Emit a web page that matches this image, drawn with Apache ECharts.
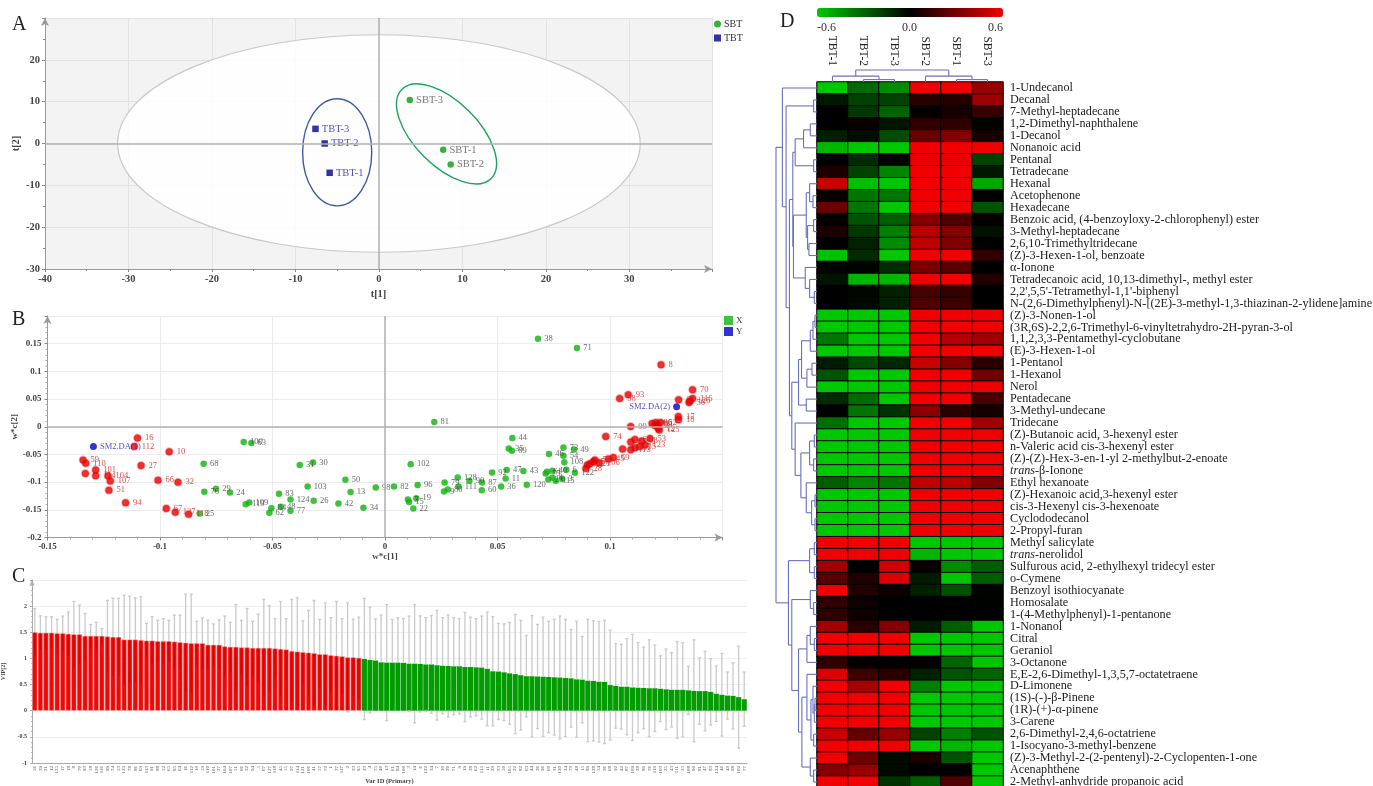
<!DOCTYPE html>
<html>
<head>
<meta charset="utf-8">
<title>PLS-DA and heat map</title>
<script src="https://cdn.jsdelivr.net/npm/echarts@6/dist/echarts.min.js"></script>
<style>
html,body{margin:0;padding:0;background:#fff;overflow:hidden}
#main{width:1373px;height:786px}
</style>
</head>
<body>
<div id="main"></div>
<script>
// A: score plot
var scoreSBT = [[7.7,-1.5,'SBT-1'],[8.6,-5,'SBT-2'],[3.7,10.4,'SBT-3']];
var scoreTBT = [[-5.9,-7,'TBT-1'],[-6.5,0,'TBT-2'],[-7.6,3.5,'TBT-3']];
// cx, cy, rx, ry, rotation in degrees
var scoreEllipses = [[0,0,31.3,26,0],[-5,-2.1,4.14,12.8,0],[8.1,2.3,7.55,7.64,-45]];
var ellipseStroke = ['#c8c8c8','#3a5ea5','#1ca35c'];

// B: loading plot
var loadGreen = [[-0.0628,-0.0277,'100'],[-0.0594,-0.0295,'63'],[-0.0806,-0.0669,'68'],[-0.0379,-0.0693,'31'],[-0.032,-0.0645,'30'],[-0.0176,-0.0958,'50'],[-0.0344,-0.1078,'103'],[-0.0803,-0.1175,'76'],[-0.0751,-0.112,'29'],[-0.0689,-0.1187,'24'],[-0.0471,-0.1211,'83'],[-0.042,-0.1313,'124'],[-0.0153,-0.118,'13'],[-0.0317,-0.1337,'26'],[-0.0207,-0.1386,'42'],[-0.0096,-0.1464,'34'],[-0.0603,-0.1367,'109'],[-0.0619,-0.1398,'119'],[-0.0505,-0.147,'84'],[-0.0463,-0.1446,'48'],[-0.0514,-0.1554,'62'],[-0.042,-0.1518,'77'],[-0.0824,-0.1566,'25'],[-0.0041,-0.1096,'98'],
  [0.068,0.159,'38'],[0.0853,0.1422,'71'],[0.0219,0.0084,'81'],[0.0566,-0.0205,'44'],[0.055,-0.0392,'35'],[0.0564,-0.0434,'89'],[0.0793,-0.0373,'73'],[0.084,-0.041,'49'],[0.0729,-0.0494,'46'],[0.0793,-0.0524,'54'],[0.0797,-0.0639,'108'],[0.0114,-0.0675,'102'],[0.0476,-0.0825,'92'],[0.0541,-0.0783,'47'],[0.0615,-0.0801,'43'],[0.0806,-0.0777,'6'],[0.0844,-0.0831,'122'],[0.0714,-0.0843,'75'],[0.072,-0.0813,'61'],[0.0744,-0.0795,'40'],[0.0726,-0.0952,'23'],[0.0744,-0.0922,'4'],[0.0759,-0.0976,'115'],[0.0788,-0.094,'3'],[0.0536,-0.0934,'11'],[0.0323,-0.0916,'128'],[0.0375,-0.0976,'90'],[0.0431,-0.1006,'87'],[0.0265,-0.1006,'79'],[0.0327,-0.1078,'111'],[0.0516,-0.1078,'36'],[0.063,-0.1048,'120'],[0.043,-0.1145,'60'],[0.0145,-0.1054,'96'],[0.004,-0.1078,'82'],[0.0279,-0.1133,'80'],[0.0262,-0.1169,'9'],[0.0139,-0.1289,'19'],[0.0102,-0.1313,'7'],[0.0107,-0.1361,'15'],[0.0126,-0.1476,'22']];
var loadRed = [[-0.11,-0.0205,'16'],[-0.1114,-0.0355,'112'],[-0.0959,-0.045,'10'],[-0.1342,-0.06,'59'],[-0.133,-0.066,'110'],[-0.1286,-0.078,'101'],[-0.1084,-0.07,'27'],[-0.1286,-0.0886,'114'],[-0.1231,-0.0886,'104'],[-0.1332,-0.0843,''],[-0.1221,-0.098,'107'],[-0.1227,-0.1145,'51'],[-0.1009,-0.0964,'66'],[-0.092,-0.1,'32'],[-0.1153,-0.1373,'94'],[-0.0972,-0.1476,'67'],[-0.0932,-0.1542,'127'],[-0.0873,-0.1578,'118'],
  [0.1227,0.112,'8'],[0.1367,0.0669,'70'],[0.1081,0.0578,'93'],[0.1043,0.0512,'58'],[0.1305,0.0488,'65'],[0.1367,0.0512,'116'],[0.1356,0.0464,'126'],[0.1351,0.044,'56'],[0.1304,0.0187,'17'],[0.1304,0.0127,'18'],[0.1092,0.0006,'99'],[0.1187,0.006,'78'],[0.1204,0.0078,'86'],[0.1225,0.0078,'52'],[0.1199,0.0024,'39'],[0.1211,0.0042,'21'],[0.1215,-0.003,'12'],[0.1219,-0.006,'125'],[0.0981,-0.0175,'74'],[0.1178,-0.0211,'53'],[0.1111,-0.0229,'64'],[0.1092,-0.0277,'85'],[0.1141,-0.0259,'88'],[0.1056,-0.0404,'91'],[0.1092,-0.0416,'113'],[0.1111,-0.038,'97'],[0.1133,-0.0355,'55'],[0.1156,-0.0331,'123'],[0.1015,-0.0554,'69'],[0.0993,-0.0584,'45'],[0.0933,-0.0602,'5'],[0.0953,-0.0651,'106'],[0.0911,-0.0669,'121'],[0.0899,-0.0693,'41'],[0.0893,-0.0753,'28'],[0.0926,-0.0633,'57']];
var loadBlue = [[-0.1296,-0.0355,'SM2.DA(1)'],[0.1296,0.0361,'SM2.DA(2)']];

// C: VIP bars, bars and error half widths read one by one
var vipRed = [1.50,1.49,1.49,1.49,1.48,1.48,1.47,1.46,1.46,1.43,1.43,1.43,1.43,1.42,1.41,1.41,1.36,1.36,1.36,1.35,1.34,1.34,1.33,1.33,1.33,1.32,1.31,1.30,1.29,1.29,1.29,1.26,1.26,1.26,1.23,1.22,1.22,1.21,1.21,1.20,1.20,1.20,1.20,1.19,1.18,1.17,1.14,1.13,1.12,1.11,1.10,1.08,1.08,1.06,1.05,1.04,1.02,1.02,1.01];
var vipGreen = [0.99,0.97,0.96,0.925,0.92,0.92,0.92,0.915,0.90,0.90,0.895,0.885,0.885,0.87,0.86,0.855,0.85,0.85,0.835,0.835,0.83,0.825,0.80,0.755,0.75,0.735,0.715,0.70,0.68,0.66,0.66,0.655,0.65,0.645,0.64,0.635,0.625,0.62,0.60,0.595,0.575,0.57,0.555,0.55,0.49,0.475,0.46,0.46,0.445,0.44,0.435,0.43,0.43,0.42,0.41,0.40,0.40,0.40,0.39,0.38,0.375,0.375,0.36,0.325,0.305,0.29,0.285,0.26,0.22];
var vipErrRed = [0.455,0.325,0.305,0.305,0.265,0.33,0.42,0.63,0.56,0.43,0.22,0.26,0.14,0.69,0.74,0.74,0.85,0.83,0.80,0.83,0.33,0.46,0.40,0.43,0.40,0.51,0.52,0.93,0.94,0.42,0.485,0.47,0.40,0.48,0.58,0.47,0.81,0.52,0.745,0.51,0.65,0.93,0.81,0.57,0.91,0.59,0.99,1.03,0.60,0.81,1.01,0.665,0.98,0.72,1.04,0.72,1.04,0.73,0.78];
var vipErrGreen = [1.16,1.01,0.80,0.905,1.11,0.825,0.86,0.845,0.91,1.13,0.92,0.895,0.935,1.05,0.92,0.975,0.93,0.91,1.045,0.955,0.93,0.985,1.085,1.045,0.92,0.925,0.975,1.14,1.05,0.78,1.16,0.995,1.14,1.065,1.105,1.175,1.12,0.935,1.11,0.825,1.17,1.15,1.155,1.18,1.05,0.81,0.81,0.92,1.015,0.865,0.78,0.925,0.825,0.63,0.77,0.71,0.925,0.90,0.46,0.975,0.635,0.76,0.635,0.53,0.79,0.45,0.635,0.975,0.52];
var vipIds = [56,39,21,12,125,17,18,8,70,93,58,126,116,99,74,53,123,78,86,69,113,91,88,52,65,85,64,16,112,10,59,110,101,27,104,107,51,66,32,94,5,67,127,118,45,55,97,114,121,106,41,57,72,1,37,117,2,33,95,
  23,4,75,40,13,61,84,100,3,14,6,122,34,7,30,20,71,9,19,38,62,115,11,29,73,50,105,22,82,63,44,26,96,60,31,120,24,79,48,15,89,128,54,36,68,92,42,87,109,28,80,76,119,103,25,43,111,35,108,90,81,47,83,124,46,49,98,102,77];

// D: heat map, columns and rows in cluster order
var heatCols = ['TBT-1','TBT-2','TBT-3','SBT-2','SBT-1','SBT-3'];
var heatNames = ['1-Undecanol','Decanal','7-Methyl-heptadecane','1,2-Dimethyl-naphthalene','1-Decanol','Nonanoic acid','Pentanal','Tetradecane','Hexanal','Acetophenone','Hexadecane','Benzoic acid, (4-benzoyloxy-2-chlorophenyl) ester','3-Methyl-heptadecane','2,6,10-Trimethyltridecane','(Z)-3-Hexen-1-ol, benzoate','α-Ionone','Tetradecanoic acid, 10,13-dimethyl-, methyl ester',"2,2',5,5'-Tetramethyl-1,1'-biphenyl",'N-(2,6-Dimethylphenyl)-N-[(2E)-3-methyl-1,3-thiazinan-2-ylidene]amine','(Z)-3-Nonen-1-ol','(3R,6S)-2,2,6-Trimethyl-6-vinyltetrahydro-2H-pyran-3-ol','1,1,2,3,3-Pentamethyl-cyclobutane','(E)-3-Hexen-1-ol','1-Pentanol','1-Hexanol','Nerol','Pentadecane','3-Methyl-undecane','Tridecane','(Z)-Butanoic acid, 3-hexenyl ester','n-Valeric acid cis-3-hexenyl ester','(Z)-(Z)-Hex-3-en-1-yl 2-methylbut-2-enoate','trans-β-Ionone','Ethyl hexanoate','(Z)-Hexanoic acid,3-hexenyl ester','cis-3-Hexenyl cis-3-hexenoate','Cyclododecanol','2-Propyl-furan','Methyl salicylate','trans-nerolidol','Sulfurous acid, 2-ethylhexyl tridecyl ester','o-Cymene','Benzoyl isothiocyanate','Homosalate','1-(4-Methylphenyl)-1-pentanone','1-Nonanol','Citral','Geraniol','3-Octanone','E,E-2,6-Dimethyl-1,3,5,7-octatetraene','D-Limonene','(1S)-(-)-β-Pinene','(1R)-(+)-α-pinene','3-Carene','2,6-Dimethyl-2,4,6-octatriene','1-Isocyano-3-methyl-benzene','(Z)-3-Methyl-2-(2-pentenyl)-2-Cyclopenten-1-one','Acenaphthene','2-Methyl-anhydride propanoic acid'];
var heatRows = [
  [-.6,-.32,-.42,.6,.6,.38],[-.07,-.2,-.2,.1,.09,.39],[0,-.17,-.3,.01,.05,.13],[0,.02,-.06,.12,.12,-.01],[-.09,-.04,-.23,.26,.33,.06],[-.55,-.6,-.6,.6,.6,.6],
  [0,-.13,0,.58,.58,-.2],[.07,-.2,-.4,.6,.6,-.07],[.5,-.58,-.6,.6,.6,-.5],[.02,-.35,-.35,.6,.6,0],[.27,-.36,-.6,.6,.6,-.25],[0,-.25,-.28,.33,.2,.01],
  [.07,-.17,-.38,.46,.33,-.05],[0,-.1,-.42,.48,.32,0],[-.58,-.13,-.6,.6,.6,.12],[-.01,-.01,-.13,.3,.22,0],[-.06,-.55,-.55,.6,.6,.08],[0,-.02,-.1,.18,.13,0],
  [0,-.03,-.1,.2,.15,0],[-.6,-.6,-.6,.6,.6,.6],[-.6,-.6,-.6,.6,.6,.6],[-.35,-.6,-.6,.6,.45,.4],[-.6,-.6,-.6,.6,.6,.6],[-.08,-.22,-.12,.5,.33,.1],
  [-.25,-.6,-.6,.6,.6,.28],[-.6,-.6,-.6,.6,.6,.6],[-.13,-.32,-.6,.6,.6,.18],[-.01,-.35,-.15,.35,.1,.05],[-.33,-.6,-.6,.6,.6,.4],[-.6,-.6,-.6,.6,.6,.6],
  [-.6,-.6,-.6,.6,.6,.6],[-.6,-.6,-.6,.6,.6,.6],[-.6,-.6,-.6,.6,.6,.6],[-.28,-.4,-.35,.48,.47,.33],[-.6,-.6,-.6,.6,.6,.6],[-.6,-.6,-.6,.6,.6,.6],
  [-.6,-.6,-.6,.6,.6,.6],[-.6,-.6,-.6,.6,.6,.6],[.6,.6,.6,-.6,-.6,-.6],[.6,.6,.6,-.55,-.6,-.6],[.4,0,.52,.02,-.42,-.28],[.22,.08,.55,-.08,-.6,-.28],
  [.6,.08,.03,-.1,-.24,-.01],[.12,.03,0,0,0,-.005],[.12,.04,0,0,0,0],[.4,.1,.33,-.08,-.28,-.6],[.6,.6,.6,-.6,-.6,-.6],[.6,.6,.6,-.6,-.6,-.6],
  [.12,.01,.01,.01,-.3,-.6],[.55,.15,.1,-.1,-.25,-.3],[.6,.42,.6,-.38,-.6,-.6],[.6,.6,.6,-.6,-.6,-.6],[.6,.6,.6,-.6,-.6,-.6],[.6,.6,.6,-.6,-.6,-.6],
  [.5,.25,.38,-.2,-.38,-.25],[.6,.6,.6,-.6,-.55,-.6],[.6,.27,-.03,.07,-.25,-.6],[.33,.38,-.03,0,0,-.6],[.6,.6,-.15,-.28,.2,-.6]];

// dendrograms as [height, childA, childB], a plain number is a leaf index
var rowTree = [122,
  [103, 0, [92, [10,1,2],
    [82,
      [72,
        [65, [40,[20,3,4],5], [10,6,7]],
        [70, [32,[22,8,[12,9,10]],[28,[10,11,12],[24,13,14]]], [35,15,[22,16,[8,17,18]]]]],
      [75,
        [55, [46,[20,[12,[6,19,20],21],22],[30,[15,23,24],25]], [32,26,27]],
        [65, 28, [48,[22,[8,29,30],[10,31,32]],[32,33,[16,[6,34,35],[6,36,37]]]]]]]]],
  [85,
    [22,[8,38,39],[8,40,41]],
    [75,
      [20,42,[10,43,44]],
      [55,[30,[20,45,[8,46,47]],48],[45,[30,49,[18,[12,50,[8,[6,51,52],53]],[10,54,55]]],[20,56,[10,57,58]]]]]]];
var colTree = [35,[17,0,[7,1,2]],[17,3,[7,4,5]]];

var serif = '"Liberation Serif", "Times New Roman", serif';

function flatten(node, segs) {
  if (typeof node === 'number') return {h: 0, p: node};
  var a = flatten(node[1], segs), b = flatten(node[2], segs);
  segs.push([a.h, a.p, node[0], a.p]);
  segs.push([b.h, b.p, node[0], b.p]);
  segs.push([node[0], a.p, node[0], b.p]);
  return {h: node[0], p: (a.p + b.p) / 2};
}
var rowSegs = [], colSegs = [];
flatten(rowTree, rowSegs);
flatten(colTree, colSegs);

var heatData = [];
heatRows.forEach(function (r, i) {
  r.forEach(function (v, j) { heatData.push([j, i, v]); });
});

var vipAll = vipRed.concat(vipGreen);
var vipErr = vipErrRed.concat(vipErrGreen);
var vipBars = vipAll.map(function (v, i) {
  return {value: v, itemStyle: i < vipRed.length ? {color: '#ee0808', borderColor: '#f0a8a8', borderWidth: 0.5} : {color: '#009c00'}};
});
var vipRange = vipAll.map(function (v, i) { return [i, v - vipErr[i], v + vipErr[i], v]; });

var grayLine = {show: true, lineStyle: {color: '#ececec', width: 1}};
var tickFont = {fontFamily: serif, fontSize: 10.5, color: '#444', fontWeight: 'bold'};
var arrowLine = {show: true, onZero: false, symbol: ['none', 'arrow'], symbolSize: [6, 8], lineStyle: {color: '#999', width: 1}};
var zeroLines = {
  silent: true, symbol: 'none', label: {show: false},
  lineStyle: {color: '#b0b0b0', width: 1.5, type: 'solid'},
  data: [{xAxis: 0}, {yAxis: 0}]
};
var letterStyle = {fontFamily: serif, fontSize: 20, fontWeight: 'normal', color: '#222'};

function pointName(p) { return p.data[2]; }
function drawSegment(params, api) {
  var p1 = api.coord([api.value(0), api.value(1)]);
  var p2 = api.coord([api.value(2), api.value(3)]);
  return {type: 'line', shape: {x1: p1[0], y1: p1[1], x2: p2[0], y2: p2[1]},
    style: {stroke: '#6a6fc0', lineWidth: 1.1, fill: null}};
}
function drawColSegment(params, api) {
  var p1 = api.coord([api.value(1), api.value(0)]);
  var p2 = api.coord([api.value(3), api.value(2)]);
  return {type: 'line', shape: {x1: p1[0], y1: p1[1], x2: p2[0], y2: p2[1]},
    style: {stroke: '#6a6fc0', lineWidth: 1.1, fill: null}};
}
function drawEllipse(params, api) {
  var c = api.coord([api.value(0), api.value(1)]);
  var s = api.size([api.value(2), api.value(3)]);
  return {type: 'ellipse', x: c[0], y: c[1], rotation: api.value(4) * Math.PI / 180,
    shape: {cx: 0, cy: 0, rx: s[0], ry: s[1]},
    style: {fill: params.dataIndex === 0 ? 'rgba(255,255,255,0.86)' : 'none',
      stroke: ellipseStroke[params.dataIndex], lineWidth: params.dataIndex === 0 ? 1.2 : 1.4}};
}
function drawError(params, api) {
  var i = api.value(0), low = api.value(1), high = api.value(2), v = api.value(3);
  var top = api.coord([i, high]), mid = api.coord([i, v]), base = api.coord([i, Math.max(low, 0)]), bottom = api.coord([i, low]);
  var gray = {stroke: '#cacaca', lineWidth: 1.3};
  var kids = [
    {type: 'line', shape: {x1: top[0], y1: top[1], x2: mid[0], y2: mid[1]}, style: gray},
    {type: 'line', shape: {x1: top[0] - 1.5, y1: top[1], x2: top[0] + 1.5, y2: top[1]}, style: gray}
  ];
  if (params.dataIndex < vipRed.length) {
    kids.push({type: 'line', shape: {x1: mid[0], y1: mid[1], x2: base[0], y2: base[1]}, style: {stroke: 'rgba(150,0,0,0.4)', lineWidth: 1}});
  }
  if (low < 0) {
    var zero = api.coord([i, 0]);
    kids.push({type: 'line', shape: {x1: zero[0], y1: zero[1], x2: bottom[0], y2: bottom[1]}, style: gray});
    kids.push({type: 'line', shape: {x1: bottom[0] - 1.5, y1: bottom[1], x2: bottom[0] + 1.5, y2: bottom[1]}, style: gray});
  }
  return {type: 'group', children: kids};
}

var chart = echarts.init(document.getElementById('main'), null, {renderer: 'canvas'});
var option = {
  animation: false,
  backgroundColor: '#fff',
  title: [
    {text: 'A', left: 12, top: 15, padding: 0, textStyle: letterStyle},
    {text: 'B', left: 12, top: 310, padding: 0, textStyle: letterStyle},
    {text: 'C', left: 12, top: 567, padding: 0, textStyle: letterStyle},
    {text: 'D', left: 780, top: 12, padding: 0, textStyle: letterStyle}
  ],
  graphic: [
    {type: 'text', left: 817, top: 22, style: {text: '-0.6', font: '12px ' + serif, fill: '#333'}},
    {type: 'text', left: 902, top: 22, style: {text: '0.0', font: '12px ' + serif, fill: '#333'}},
    {type: 'text', left: 988, top: 22, style: {text: '0.6', font: '12px ' + serif, fill: '#333'}}
  ],
  legend: [
    {data: [{name: 'SBT', icon: 'circle'}, {name: 'TBT', icon: 'rect'}], orient: 'vertical', left: 714, top: 19, padding: 0, itemGap: 4, itemWidth: 7, itemHeight: 7, selectedMode: false, textStyle: {fontFamily: serif, fontSize: 10, color: '#333', padding: [0, 0, 0, -2]}},
    {data: [{name: 'X', icon: 'rect'}, {name: 'Y', icon: 'rect'}], orient: 'vertical', left: 724, top: 316, padding: 0, itemGap: 2, itemWidth: 9, itemHeight: 9, selectedMode: false, textStyle: {fontFamily: serif, fontSize: 9, color: '#333', padding: [0, 0, 0, -2]}}
  ],
  visualMap: {
    type: 'continuous', seriesIndex: 7, min: -0.6, max: 0.6, orient: 'horizontal', left: 817, top: 8, padding: 0,
    itemWidth: 9, itemHeight: 186, calculable: false, showLabel: false, text: null,
    inRange: {color: ['#00c800', '#000000', '#f00000']}
  },
  grid: [
    {left: 45, top: 18, width: 667, height: 251, show: true, backgroundColor: '#f3f3f3', borderWidth: 0, outerBoundsMode: 'none'},
    {left: 47.5, top: 316, width: 675, height: 221.5, outerBoundsMode: 'none'},
    {left: 32, top: 580, width: 715, height: 183, outerBoundsMode: 'none'},
    {left: 817, top: 82, width: 186, height: 706, outerBoundsMode: 'none'},
    {left: 776, top: 82, width: 41, height: 706, outerBoundsMode: 'none'},
    {left: 817, top: 70, width: 186, height: 12, outerBoundsMode: 'none'}
  ],
  xAxis: [
    {gridIndex: 0, type: 'value', min: -40, max: 39.9, interval: 10, name: 't[1]', nameLocation: 'middle', nameGap: 20, nameTextStyle: tickFont,
      axisLine: arrowLine, axisTick: {show: true, length: 3, lineStyle: {color: '#888'}}, minorTick: {show: true, splitNumber: 2, length: 2, lineStyle: {color: '#888'}},
      axisLabel: {showMaxLabel: false, margin: 5, fontFamily: serif, fontSize: 10.5, color: '#444', fontWeight: 'bold'}, splitLine: {show: true, lineStyle: {color: '#e2e2e2'}}},
    {gridIndex: 1, type: 'value', min: -0.15, max: 0.15, interval: 0.05, name: 'w*c[1]', nameLocation: 'middle', nameGap: 15, nameTextStyle: {fontFamily: serif, fontSize: 9, color: '#444', fontWeight: 'bold'},
      axisLine: arrowLine, axisTick: {show: true, length: 3, lineStyle: {color: '#888'}}, minorTick: {show: true, splitNumber: 5, length: 2, lineStyle: {color: '#aaa'}},
      axisLabel: {showMaxLabel: false, margin: 5, fontFamily: serif, fontSize: 9, color: '#444', fontWeight: 'bold'}, splitLine: grayLine},
    {gridIndex: 2, type: 'category', data: vipIds, name: 'Var ID (Primary)', nameLocation: 'middle', nameGap: 15, nameTextStyle: {fontFamily: serif, fontSize: 6.5, color: '#444', fontWeight: 'bold'},
      axisLine: {show: true, onZero: false, lineStyle: {color: '#aaa'}}, axisTick: {show: false},
      axisLabel: {interval: 0, rotate: 90, margin: 3, fontFamily: serif, fontSize: 5, color: '#555'}},
    {gridIndex: 3, type: 'category', data: heatCols, position: 'top', axisLine: {show: false}, axisTick: {show: false},
      axisLabel: {interval: 0, rotate: 90, margin: 16, fontFamily: serif, fontSize: 11.5, color: '#222'}},
    {gridIndex: 4, type: 'value', min: 0, max: 122, inverse: true, show: false},
    {gridIndex: 5, type: 'value', min: -0.5, max: 5.5, show: false}
  ],
  yAxis: [
    {gridIndex: 0, type: 'value', min: -30, max: 30, interval: 10, name: 't[2]', nameLocation: 'middle', nameGap: 20, nameTextStyle: tickFont,
      axisLine: arrowLine, axisTick: {show: true, length: 3, lineStyle: {color: '#888'}}, minorTick: {show: true, splitNumber: 2, length: 2, lineStyle: {color: '#888'}},
      axisLabel: {showMaxLabel: false, margin: 5, fontFamily: serif, fontSize: 10.5, color: '#444', fontWeight: 'bold'}, splitLine: {show: true, lineStyle: {color: '#e2e2e2'}}},
    {gridIndex: 1, type: 'value', min: -0.2, max: 0.2, interval: 0.05, name: 'w*c[2]', nameLocation: 'middle', nameGap: 27, nameTextStyle: {fontFamily: serif, fontSize: 9, color: '#444', fontWeight: 'bold'},
      axisLine: arrowLine, axisTick: {show: true, length: 3, lineStyle: {color: '#888'}}, minorTick: {show: true, splitNumber: 5, length: 2, lineStyle: {color: '#aaa'}},
      axisLabel: {showMaxLabel: false, margin: 6, fontFamily: serif, fontSize: 9, color: '#444', fontWeight: 'bold'}, splitLine: grayLine},
    {gridIndex: 2, type: 'value', min: -1, max: 2.5, interval: 0.5, name: 'VIP[2]', nameLocation: 'middle', nameGap: 16, nameTextStyle: {fontFamily: serif, fontSize: 6, color: '#444', fontWeight: 'bold'},
      axisLine: {show: true, onZero: false, symbol: ['none', 'arrow'], symbolSize: [4, 6], lineStyle: {color: '#aaa'}}, axisTick: {show: true, length: 2, lineStyle: {color: '#aaa'}}, minorTick: {show: true, splitNumber: 5, length: 1, lineStyle: {color: '#bbb'}},
      axisLabel: {showMaxLabel: false, margin: 5, fontFamily: serif, fontSize: 6, color: '#444', fontWeight: 'bold'}, splitLine: {show: true, lineStyle: {color: '#efefef'}}},
    {gridIndex: 3, type: 'category', data: heatNames, inverse: true, position: 'right', axisLine: {show: false}, axisTick: {show: false},
      axisLabel: {interval: 0, margin: 7, fontFamily: serif, fontSize: 12.2, color: '#222',
        formatter: function (v) { return v.indexOf('trans-') === 0 ? '{i|trans}' + v.slice(5) : v; },
        rich: {i: {fontStyle: 'italic', fontFamily: serif, fontSize: 12.2, color: '#222'}}}},
    {gridIndex: 4, type: 'value', min: -0.5, max: 58.5, inverse: true, show: false},
    {gridIndex: 5, type: 'value', min: 0, max: 35, show: false}
  ],
  series: [
    {name: 'ellipses', type: 'custom', xAxisIndex: 0, yAxisIndex: 0, renderItem: drawEllipse, data: scoreEllipses, z: 1, silent: true, markLine: zeroLines},
    {name: 'SBT', type: 'scatter', xAxisIndex: 0, yAxisIndex: 0, data: scoreSBT, symbol: 'circle', symbolSize: 6.5, z: 3,
      itemStyle: {color: '#0a9a0a'}, label: {show: true, position: 'right', distance: 3, fontFamily: serif, fontSize: 10.5, color: '#555', formatter: pointName}},
    {name: 'TBT', type: 'scatter', xAxisIndex: 0, yAxisIndex: 0, data: scoreTBT, symbol: 'rect', symbolSize: 6.5, z: 3,
      itemStyle: {color: '#00008c'}, label: {show: true, position: 'right', distance: 3, fontFamily: serif, fontSize: 10.5, color: '#2222bb', formatter: pointName}},
    {name: 'X', type: 'scatter', xAxisIndex: 1, yAxisIndex: 1, data: loadGreen, symbol: 'circle', symbolSize: 6.5, z: 3,
      itemStyle: {color: '#0db30d'}, markLine: zeroLines,
      label: {show: true, position: 'right', distance: 3, fontFamily: serif, fontSize: 8.5, color: '#444', formatter: pointName}},
    {name: 'X high', type: 'scatter', xAxisIndex: 1, yAxisIndex: 1, data: loadRed, symbol: 'circle', symbolSize: 7, z: 4,
      itemStyle: {color: '#e60000', borderColor: 'rgba(230,0,0,0.35)', borderWidth: 2},
      label: {show: true, position: 'right', distance: 3, fontFamily: serif, fontSize: 8.5, color: '#c42020', formatter: pointName}},
    {name: 'Y', type: 'scatter', xAxisIndex: 1, yAxisIndex: 1, symbol: 'circle', symbolSize: 7, z: 5,
      data: [{value: loadBlue[0], label: {position: 'right'}}, {value: loadBlue[1], label: {position: 'left'}}],
      itemStyle: {color: '#0000c8'},
      label: {show: true, distance: 3, fontFamily: serif, fontSize: 8.5, color: '#2222bb', formatter: function (p) { return p.value[2]; }}},
    {name: 'VIP', type: 'bar', xAxisIndex: 2, yAxisIndex: 2, data: vipBars, barCategoryGap: '8%', z: 2, silent: true},
    {name: 'heat', type: 'heatmap', xAxisIndex: 3, yAxisIndex: 3, data: heatData, itemStyle: {borderColor: '#000', borderWidth: 1}, silent: true},
    {name: 'rowTree', type: 'custom', xAxisIndex: 4, yAxisIndex: 4, renderItem: drawSegment, data: rowSegs, silent: true, clip: false},
    {name: 'colTree', type: 'custom', xAxisIndex: 5, yAxisIndex: 5, renderItem: drawColSegment, data: colSegs, silent: true, clip: false},
    {name: 'VIP error', type: 'custom', xAxisIndex: 2, yAxisIndex: 2, renderItem: drawError, data: vipRange, z: 3, silent: true}
  ]
};
chart.setOption(option);
</script>
</body>
</html>
